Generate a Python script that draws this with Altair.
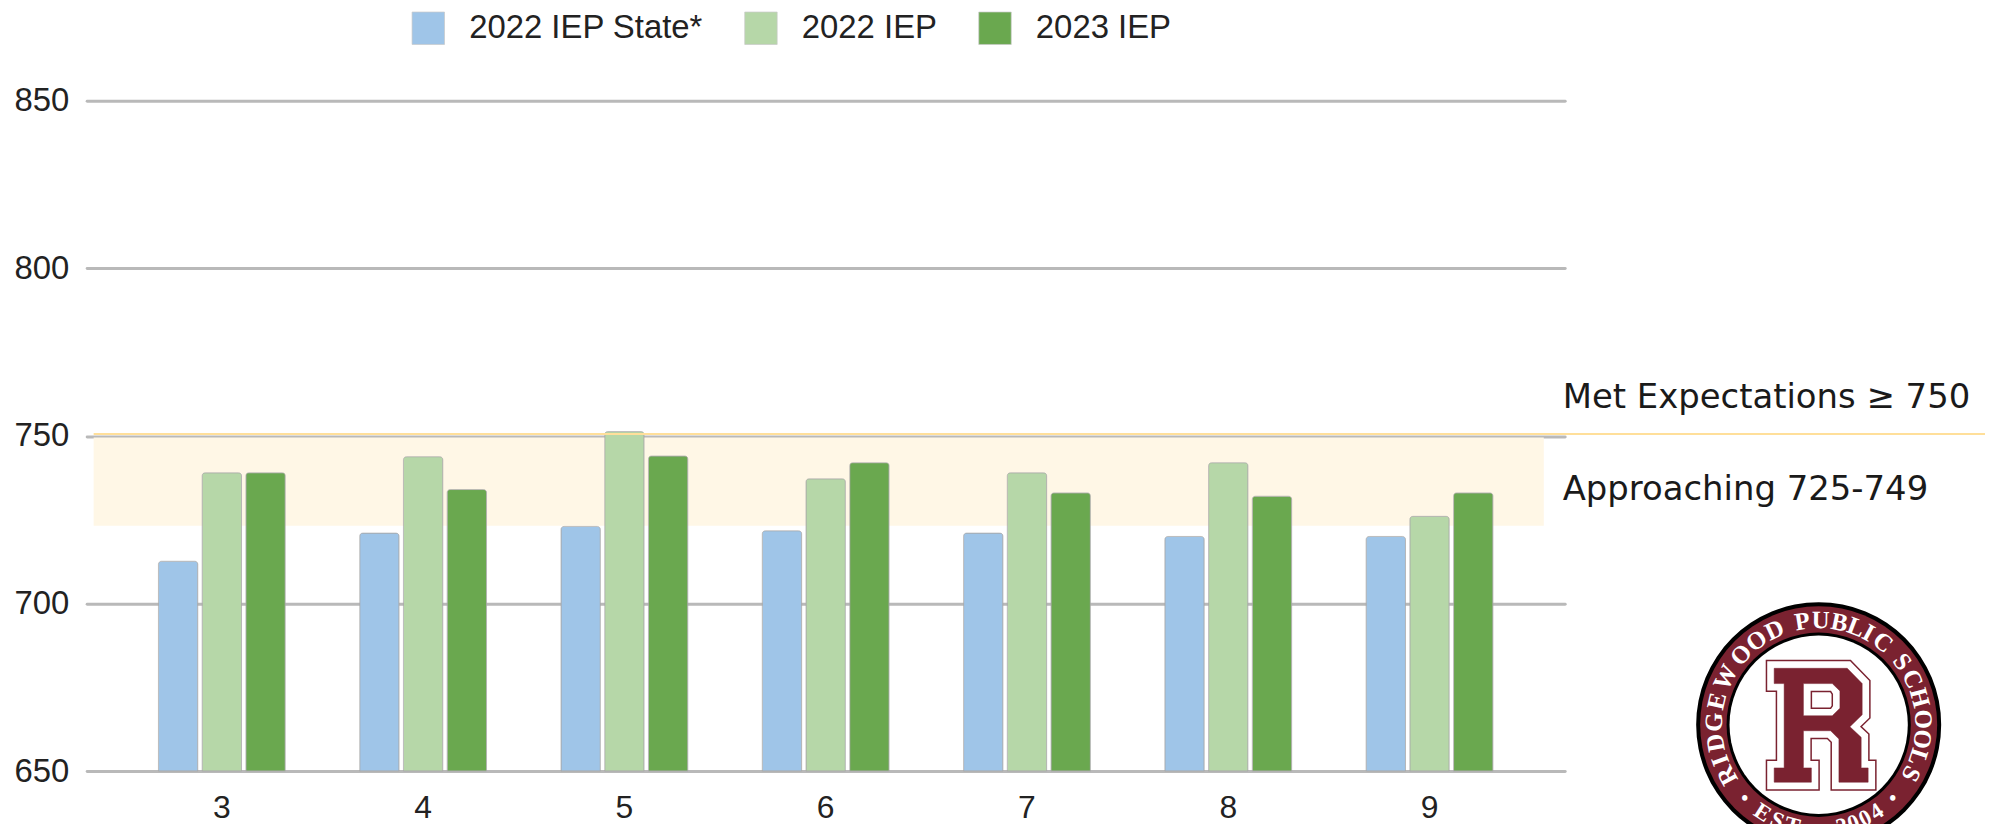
import math
import altair as alt
import pandas as pd

grades = ["3", "4", "5", "6", "7", "8", "9"]
state_2022 = [712.6, 721, 723, 721.7, 721, 720, 720]
iep_2022 = [739, 743.8, 751.3, 737.2, 739, 742, 726]
iep_2023 = [739, 734, 744, 742, 733, 732, 733]
series = ["2022 IEP State*", "2022 IEP", "2023 IEP"]
colors = ["#9FC5E8", "#B6D7A8", "#6AA84F"]
y_ticks = [650, 700, 750, 800, 850]
band_low, band_high = 723.2, 749.5
met_line = 750.6
label_met = "Met Expectations \u2265 750"
label_app = "Approaching 725-749"

PW, PH = 1484, 673
rows = []
for g, a, b, c in zip(grades, state_2022, iep_2022, iep_2023):
    rows += [{"grade": g, "series": series[0], "v": a},
             {"grade": g, "series": series[1], "v": b},
             {"grade": g, "series": series[2], "v": c}]
df = pd.DataFrame(rows)

yscale = alt.Scale(domain=[650, 850], nice=False, zero=False, clamp=True)
yaxis = alt.Axis(values=y_ticks, title=None, domain=False, ticks=False, grid=True,
                 gridColor="#B9B9B9", gridWidth=3, gridCap="round",
                 labelFont="Liberation Sans", labelFontSize=33, labelColor="#222222",
                 labelPadding=18)

band = alt.Chart(pd.DataFrame({"v": [band_low], "v2": [band_high]})).mark_rect(color="#FFF7E6").encode(
    x=alt.value(7), x2=alt.value(1463),
    y=alt.Y("v:Q", scale=yscale, axis=yaxis), y2="v2:Q")

bars = alt.Chart(df).mark_bar(cornerRadiusTopLeft=3, cornerRadiusTopRight=3,
                              stroke="#A8A8A8", strokeWidth=0.7).encode(
    x=alt.X("grade:N", sort=grades, title=None,
            scale=alt.Scale(paddingInner=0.37, paddingOuter=0.3565),
            axis=alt.Axis(domain=False, ticks=False, grid=False, labelAngle=0,
                          labelFont="Liberation Sans", labelFontSize=32,
                          labelColor="#222222", labelPadding=22)),
    xOffset=alt.XOffset("series:N", sort=series, scale=alt.Scale(domain=series, paddingInner=0.1)),
    y=alt.Y("v:Q", scale=yscale, axis=yaxis),
    color=alt.Color("series:N", sort=series,
                    scale=alt.Scale(domain=series, range=colors),
                    legend=alt.Legend(orient="none", direction="horizontal", columns=3,
                                      legendX=326, legendY=-90, title=None,
                                      symbolType="square", symbolSize=1060,
                                      symbolStrokeColor="#C8C8C8", symbolStrokeWidth=0.7,
                                      labelFont="Liberation Sans", labelFontSize=33,
                                      labelColor="#222222", labelOffset=24, labelLimit=400,
                                      columnPadding=40, symbolOpacity=1)))

line = alt.Chart(pd.DataFrame({"v": [met_line]})).mark_rule(color="#FFDF9A", strokeWidth=2).encode(
    x=alt.value(7), x2=alt.value(1906), y=alt.Y("v:Q", scale=yscale, axis=yaxis))

def note(text, ypx):
    return alt.Chart(pd.DataFrame({"t": [text]})).mark_text(
        font="DejaVu Sans", fontSize=34, align="left", baseline="alphabetic", color="#1a1a1a").encode(
        x=alt.value(1482), y=alt.value(ypx), text="t:N")

# ---- logo ----
CX, CY = 1739, 626.5
MAROON = "#7A2230"

def disc(r, color):
    return alt.Chart(pd.DataFrame({"a": [0]})).mark_point(
        filled=True, shape="circle", size=(2 * r) ** 2, color=color, opacity=1).encode(
        x=alt.value(CX), y=alt.value(CY))

def rel(points):
    return " ".join(("M" if i == 0 else "L") + f"{(x-960)/300:.4f},{(y-1098)/300:.4f}"
                    for i, (x, y) in enumerate(points)) + " Z"

R_OUT = [(820, 922), (1040, 922), (1085, 968), (1085, 1062), (1048, 1098), (1082, 1130),
         (1082, 1222), (1103, 1222), (1103, 1265), (1015, 1265), (1015, 1135), (990, 1110),
         (908, 1110), (908, 1222), (932, 1222), (932, 1265), (820, 1265), (820, 1222),
         (850, 1222), (850, 968), (820, 968)]
R_HOLE = [(908, 968), (908, 1065), (995, 1065), (1018, 1042), (1018, 990), (995, 968)]
R_INNER = [(932, 992), (990, 992), (995, 1000), (995, 1035), (990, 1042), (932, 1042)]
R_PATH = rel(R_OUT) + " " + rel(R_HOLE)

def glyph(path, fill, stroke, sw):
    kw = dict(filled=False, shape=path, size=40000, opacity=1, strokeJoin="miter")
    return alt.Chart(pd.DataFrame({"a": [0]})).mark_point(
        fill=fill, stroke=stroke, strokeWidth=sw, **kw).encode(
        x=alt.value(CX + 2), y=alt.value(CY + 2))

logo_layers = [disc(123, "#000000"), disc(119, MAROON), disc(92.5, "#000000"), disc(89.5, "#FFFFFF"),
               glyph(rel(R_OUT), MAROON, MAROON, 17),
               glyph(rel(R_OUT), "#FFFFFF", "#FFFFFF", 14),
               glyph(R_PATH, MAROON, MAROON, 0.5),
               glyph(rel(R_INNER), "#FFFFFF", MAROON, 1.5)]

ring_chars = list("RIDGEWOODPUBLICSCHOOLS")
ring_angles = [-119, -110, -100, -88.5, -77, -63, -48, -36.5, -25,
               -9, 1, 11.5, 21, 28.5, 38,
               53, 64, 75, 87, 98, 108, 118]
bottom_chars = list("EST.2004")
bottom_offsets = [32.6, 23.4, 14.7, 9, -12.8, -19.5, -26.4, -33.7]

def letter(ch, pos, rot, size, r=105):
    a = math.radians(pos)
    return alt.Chart(pd.DataFrame({"a": [0]})).mark_text(
        text=ch, font="Liberation Serif", fontWeight="bold", fontSize=size, color="#FFFFFF",
        align="center", baseline="middle", angle=rot % 360).encode(
        x=alt.value(CX + r * math.sin(a)), y=alt.value(CY - r * math.cos(a)))

for ch, ang in zip(ring_chars, ring_angles):
    logo_layers.append(letter(ch, ang, ang, 25))
for ch, off in zip(bottom_chars, bottom_offsets):
    logo_layers.append(letter(ch, 180 + off, off, 23))
logo_layers.append(letter("\u2022", 135, 0, 20))
logo_layers.append(letter("\u2022", -135, 0, 20))

chart = alt.layer(band, bars, line, note(label_met, 408 - 99.5), note(label_app, 500 - 99.5),
                  *logo_layers).properties(
    width=PW, height=PH,
    autosize=alt.AutoSizeParams(type="none"),
    padding={"left": 79, "top": 91.5, "right": 422, "bottom": 51.5},
).configure_view(stroke=None)

chart.save("out.html", embed_options={"renderer": "svg", "actions": False})
